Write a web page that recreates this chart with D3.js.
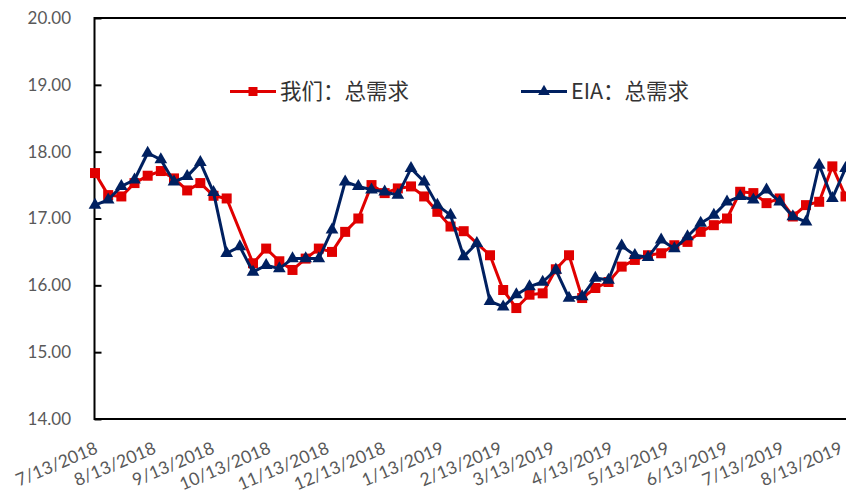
<!DOCTYPE html>
<html>
<head>
<meta charset="utf-8">
<script src="https://cdn.jsdelivr.net/npm/d3@7"></script>
<style>
  html, body { margin: 0; padding: 0; background: #fff; overflow: hidden; }
  svg { display: block; }
</style>
</head>
<body>
<svg id="chart" width="846" height="493"></svg>
<script>
const dates = [
  "7/13/2018","7/20/2018","7/27/2018","8/3/2018","8/10/2018","8/17/2018","8/24/2018","8/31/2018",
  "9/7/2018","9/14/2018","9/21/2018","9/28/2018","10/5/2018","10/12/2018","10/19/2018","10/26/2018",
  "11/2/2018","11/9/2018","11/16/2018","11/23/2018","11/30/2018","12/7/2018","12/14/2018","12/21/2018",
  "12/28/2018","1/4/2019","1/11/2019","1/18/2019","1/25/2019","2/1/2019","2/8/2019","2/15/2019",
  "2/22/2019","3/1/2019","3/8/2019","3/15/2019","3/22/2019","3/29/2019","4/5/2019","4/12/2019",
  "4/19/2019","4/26/2019","5/3/2019","5/10/2019","5/17/2019","5/24/2019","5/31/2019","6/7/2019",
  "6/14/2019","6/21/2019","6/28/2019","7/5/2019","7/12/2019","7/19/2019","7/26/2019","8/2/2019",
  "8/9/2019","8/16/2019"
];

const usDemand = [
  17.68,17.35,17.33,17.53,17.64,17.71,17.60,17.42,
  17.53,17.34,17.30,null,16.33,16.55,16.36,16.23,
  16.40,16.55,16.50,16.80,17.00,17.50,17.38,17.45,
  17.48,17.33,17.10,16.88,16.81,null,16.45,15.93,
  15.66,15.86,15.88,16.24,16.45,15.81,15.96,16.05,
  16.28,16.38,16.45,16.48,16.60,16.65,16.80,16.90,
  17.00,17.40,17.38,17.23,17.30,17.03,17.20,17.25,
  17.78,17.33
];

const eiaDemand = [
  17.20,17.28,17.48,17.58,17.98,17.88,17.55,17.63,
  17.84,17.39,16.48,16.58,16.20,16.30,16.25,16.40,
  16.40,16.40,16.83,17.55,17.48,17.43,17.40,17.35,
  17.75,17.55,17.20,17.05,16.43,16.63,15.76,15.68,
  15.86,15.98,16.05,16.23,15.81,15.83,16.11,16.08,
  16.59,16.45,16.42,16.68,16.55,16.73,16.93,17.05,
  17.25,17.33,17.28,17.43,17.25,17.03,16.95,17.80,
  17.30,17.75
];

const xTickLabels = [
  "7/13/2018","8/13/2018","9/13/2018","10/13/2018","11/13/2018","12/13/2018","1/13/2019",
  "2/13/2019","3/13/2019","4/13/2019","5/13/2019","6/13/2019","7/13/2019","8/13/2019"
];
const yTicks = [14, 15, 16, 17, 18, 19, 20];
const seriesNames = ["我们：总需求", "EIA：总需求"];
const seriesColors = ["#E00000", "#002060"];

const parse = d3.timeParse("%m/%d/%Y");
const svg = d3.select("#chart");

const plotLeft = 94.5, plotTop = 18, plotBottom = 419;
const pxPerDay = 1.881;
const d0 = parse("7/13/2018"), d1 = parse("8/13/2019");
const x = d3.scaleTime()
  .domain([d0, d1])
  .range([plotLeft + 0.5, plotLeft + 0.5 + pxPerDay * d3.timeDay.count(d0, d1)]);
const y = d3.scaleLinear().domain([14, 20]).range([plotBottom, plotTop]);

const tickFont = "Lato, 'Open Sans', 'Liberation Sans', sans-serif";

// y axis ticks (inside)
const yAxis = d3.axisRight(y).tickValues(yTicks).tickSize(7).tickFormat("");
const gy = svg.append("g").attr("transform", `translate(${plotLeft},0)`).call(yAxis);
gy.select(".domain").remove();
gy.selectAll(".tick line").attr("stroke", "#000").attr("stroke-width", 2);

svg.append("g").selectAll("text").data(yTicks).join("text")
  .attr("x", 71).attr("y", d => y(d))
  .attr("dy", "0.35em")
  .attr("text-anchor", "end")
  .attr("font-family", tickFont)
  .attr("font-size", 17)
  .attr("fill", "#595959")
  .text(d3.format(".2f"));

// x axis labels
const xDates = xTickLabels.map(parse);
svg.append("g").selectAll("text").data(xTickLabels).join("text")
  .attr("transform", (d, i) => `translate(${x(xDates[i]) + 1.5},447) rotate(-23)`)
  .attr("text-anchor", "end")
  .attr("dy", "0.35em")
  .attr("font-family", tickFont)
  .attr("font-size", 17.5)
  .attr("fill", "#595959")
  .text(d => d);

// plot frame
svg.append("line").attr("x1", plotLeft).attr("x2", 846).attr("y1", plotBottom).attr("y2", plotBottom)
  .attr("stroke", "#000").attr("stroke-width", 2);
svg.append("line").attr("x1", plotLeft).attr("x2", plotLeft).attr("y1", plotTop - 1).attr("y2", plotBottom + 1)
  .attr("stroke", "#000").attr("stroke-width", 2);
svg.append("line").attr("x1", plotLeft).attr("x2", 846).attr("y1", plotTop).attr("y2", plotTop)
  .attr("stroke", "#000").attr("stroke-width", 2);

const parsedDates = dates.map(parse);
function seriesData(vals) {
  return vals.map((v, i) => ({ date: parsedDates[i], value: v })).filter(d => d.value !== null);
}
const line = d3.line().x(d => x(d.date)).y(d => y(d.value));

// red series
const redData = seriesData(usDemand);
svg.append("path").datum(redData)
  .attr("d", line).attr("fill", "none")
  .attr("stroke", seriesColors[0]).attr("stroke-width", 3).attr("stroke-linejoin", "round");
svg.append("g").selectAll("rect").data(redData).join("rect")
  .attr("x", d => x(d.date) - 5).attr("y", d => y(d.value) - 5)
  .attr("width", 10).attr("height", 10)
  .attr("fill", seriesColors[0]);

// blue series
const blueData = seriesData(eiaDemand);
svg.append("path").datum(blueData)
  .attr("d", line).attr("fill", "none")
  .attr("stroke", seriesColors[1]).attr("stroke-width", 3).attr("stroke-linejoin", "round");
const tri = d3.symbol().type(d3.symbolTriangle).size(70);
svg.append("g").selectAll("path").data(blueData).join("path")
  .attr("d", tri)
  .attr("transform", d => `translate(${x(d.date)},${y(d.value)})`)
  .attr("fill", seriesColors[1]);

// legend
const legend = [
  { name: seriesNames[0], color: seriesColors[0], x0: 230, type: "square" },
  { name: seriesNames[1], color: seriesColors[1], x0: 521, type: "triangle" }
];
const ly = 91.5;
legend.forEach(l => {
  svg.append("line").attr("x1", l.x0).attr("x2", l.x0 + 46).attr("y1", ly).attr("y2", ly)
    .attr("stroke", l.color).attr("stroke-width", 3);
  if (l.type === "square") {
    svg.append("rect").attr("x", l.x0 + 23 - 4.5).attr("y", ly - 4.5)
      .attr("width", 9).attr("height", 9).attr("fill", l.color);
  } else {
    svg.append("path").attr("d", d3.symbol().type(d3.symbolTriangle).size(60)())
      .attr("transform", `translate(${l.x0 + 23},${ly})`).attr("fill", l.color);
  }
  svg.append("text").attr("x", l.x0 + 50).attr("y", ly).attr("dy", "0.36em")
    .attr("font-family", "'Noto Sans CJK SC', sans-serif")
    .attr("font-size", 21.5).attr("fill", "#333")
    .text(l.name);
});
</script>
</body>
</html>
